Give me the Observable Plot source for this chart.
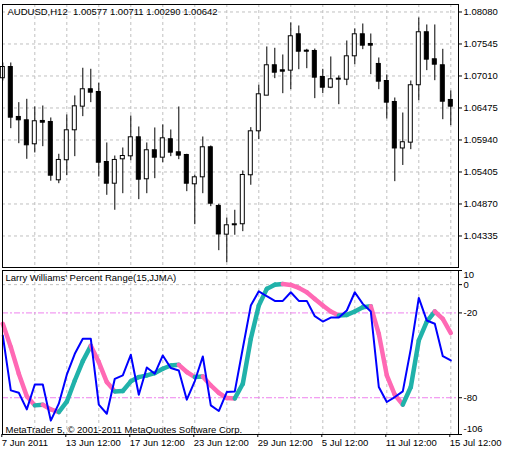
<!DOCTYPE html>
<html>
<head>
<meta charset="utf-8">
<script src="https://cdn.jsdelivr.net/npm/d3@7"></script>
<script src="https://cdn.jsdelivr.net/npm/@observablehq/plot@0.6"></script>
<style>
  html, body { margin: 0; padding: 0; background: #fff; }
  #chart { position: relative; width: 511px; height: 455px; background: #fff; }
  #chart svg { display: block; }
  #chart svg text { white-space: pre; }
</style>
</head>
<body>
<div id="chart"></div>
<script>
// ---- Data ----
const title = "AUDUSD,H12  1.00577 1.00711 1.00290 1.00642";
const indicatorName = "Larry Williams' Percent Range(15,JJMA)";
const copyright = "MetaTrader 5, © 2001-2011 MetaQuotes Software Corp.";

const open = [1.06972,1.07160,1.06325,1.06269,1.05868,1.06258,1.06241,1.05266,1.05601,1.06102,
  1.06497,1.06788,1.06742,1.05572,1.05209,1.05617,1.05667,1.05985,1.05283,1.05768,
  1.05644,1.05952,1.05734,1.05689,1.05199,1.05316,1.05818,1.04837,1.04357,1.04514,
  1.04531,1.05350,1.06085,1.06681,1.07189,1.07105,1.07099,1.07707,1.07433,1.07428,
  1.06993,1.06814,1.06948,1.06948,1.07339,1.07707,1.07545,1.07211,1.06926,1.06575,
  1.05798,1.05895,1.06855,1.07741,1.07289,1.07189,1.06609];
const high = [1.07227,1.07227,1.06564,1.06620,1.06492,1.06508,1.06308,1.05701,1.06358,1.06676,
  1.07139,1.07122,1.06888,1.05890,1.05672,1.05806,1.06341,1.06157,1.05890,1.06141,
  1.06191,1.06107,1.06492,1.05701,1.05350,1.05990,1.05840,1.04865,1.04636,1.04765,
  1.05422,1.06146,1.06855,1.07495,1.07473,1.07361,1.07896,1.07846,1.07456,1.07461,
  1.07122,1.07328,1.07010,1.07595,1.07796,1.07879,1.07712,1.07311,1.07027,1.06642,
  1.06391,1.06926,1.07980,1.07863,1.07863,1.07456,1.06759];
const low = [1.06926,1.06129,1.05878,1.05617,1.05723,1.05828,1.05250,1.05209,1.05343,1.05661,
  1.06330,1.06564,1.05321,1.05015,1.04765,1.05042,1.05594,1.04942,1.05042,1.05293,
  1.05560,1.05661,1.05611,1.05076,1.04524,1.05042,1.04825,1.04089,1.03889,1.04347,
  1.04407,1.05183,1.05945,1.06681,1.06965,1.06714,1.06781,1.07115,1.07132,1.06631,
  1.06714,1.06798,1.06530,1.06848,1.07199,1.07450,1.07032,1.06781,1.06291,1.05243,
  1.05514,1.05778,1.06597,1.07099,1.06931,1.06279,1.06179];
const close = [1.07160,1.06313,1.06269,1.05851,1.06253,1.06229,1.05343,1.05606,1.06102,1.06503,
  1.06788,1.06731,1.05560,1.05209,1.05606,1.05672,1.05985,1.05276,1.05768,1.05644,
  1.05968,1.05728,1.05678,1.05209,1.05316,1.05818,1.04875,1.04360,1.04514,1.04531,
  1.05355,1.06085,1.06704,1.07189,1.07065,1.07082,1.07674,1.07416,1.07416,1.06982,
  1.06814,1.06955,1.06965,1.07339,1.07707,1.07517,1.07517,1.06915,1.06564,1.05798,
  1.05902,1.06855,1.07741,1.07283,1.07199,1.06580,1.06497];

// Williams %R (thin blue) and its JJMA smoothing (thick two-colour)
const wpr = [-36.0,-74.8,-76.5,-88.2,-70.6,-70.6,-96.2,-84.2,-63.7,-48.9,
  -38.3,-38.3,-84.9,-91.3,-66.6,-64.2,-49.6,-77.9,-58.6,-63.0,
  -50.1,-59.0,-60.7,-81.4,-68.2,-50.8,-85.4,-89.4,-76.0,-75.5,
  -45.0,-14.8,-4.7,-8.2,-11.5,-11.5,-5.4,-11.5,-11.5,-22.3,
  -26.1,-23.3,-23.3,-18.3,-5.4,-13.6,-19.0,-72.4,-83.0,-79.5,
  -75.5,-45.4,-9.4,-25.4,-27.7,-50.6,-53.6];
const jjma = [-27.7,-44.2,-63.0,-79.0,-85.4,-85.0,-88.2,-90.1,-82.8,-67.8,
  -54.1,-43.3,-54.8,-68.9,-75.5,-75.2,-68.4,-65.4,-64.2,-62.6,
  -59.5,-57.2,-56.7,-61.8,-65.4,-64.9,-71.3,-76.5,-80.2,-80.5,
  -70.1,-38.3,-14.8,-3.0,0.0,0.5,-0.2,-2.3,-5.4,-10.1,
  -14.8,-19.0,-21.9,-21.4,-19.0,-16.0,-15.3,-34.8,-64.2,-77.9,
  -84.9,-72.4,-39.5,-26.1,-19.0,-24.2,-34.3];

const priceTicks = [1.08080,1.07545,1.07010,1.06475,1.05940,1.05405,1.04870,1.04335];
const wprLevels = [-20,-80];
const wprTicksMid = [0,-20,-80];
const wprTickTop = [10];
const wprTickBottom = [-106];
const timeTickIdx = [0,8,16,24,32,40,48,56];
const timeLabels = ["7 Jun 2011","13 Jun 12:00","17 Jun 12:00","23 Jun 12:00","29 Jun 12:00","5 Jul 12:00","11 Jul 12:00","15 Jul 12:00"];
const gridIdx = [4,8,12,16,20,24,28,32,36,40,44,48,52,56];

// ---- Build tables ----
const candles = open.map((o, i) => ({i, open: o, high: high[i], low: low[i], close: close[i]}));
const wprPts = wpr.map((v, i) => ({i, v}));
const jjSegs = jjma.slice(1).map((v, k) => ({
  x1: k, y1: jjma[k], x2: k + 1, y2: v, up: v > jjma[k]
}));

const FONT = "'Liberation Sans', Arial, sans-serif";
const FS = "9.5px";
const GRID = {stroke: "#c0c0c0", strokeOpacity: 1, strokeDasharray: "3,3"};
const xDomain = [-0.0375, 56.9625];

const upper = Plot.plot({
  width: 511, height: 268,
  marginLeft: 2, marginRight: 53, marginTop: 4, marginBottom: 1,
  x: {domain: xDomain, axis: null},
  y: {domain: [1.03808, 1.08205], axis: null},
  style: {fontFamily: FONT, fontSize: FS, background: "white", color: "black"},
  marks: [
    Plot.gridY(priceTicks, GRID),
    Plot.gridX(gridIdx, GRID),
    Plot.ruleX(candles, {x: "i", y1: "low", y2: "high", stroke: "black", strokeWidth: 1}),
    Plot.rect(candles, {
      x1: d => d.i - 0.25, x2: d => d.i + 0.25,
      y1: "open", y2: "close",
      fill: d => d.close >= d.open ? "white" : "black",
      stroke: "black", strokeWidth: 1
    }),
    Plot.frame({stroke: "black"}),
    Plot.axisY(priceTicks, {anchor: "right", tickSize: 3, tickPadding: 2, tickFormat: d3.format(".5f"), fill: "black", stroke: "black"}),
    Plot.text([title], {text: d => d, frameAnchor: "top-left", textAnchor: "start", lineAnchor: "top", dx: 5, dy: 4, fill: "black"})
  ]
});

const lower = Plot.plot({
  width: 511, height: 187,
  marginLeft: 2, marginRight: 53, marginTop: 2, marginBottom: 21,
  x: {domain: xDomain, axis: null},
  y: {domain: [-106, 10], axis: null},
  style: {fontFamily: FONT, fontSize: FS, background: "white", color: "black"},
  marks: [
    Plot.gridY([0], GRID),
    Plot.gridX(gridIdx, GRID),
    Plot.ruleY(wprLevels, {stroke: "violet", strokeDasharray: "6,2,2,2", strokeWidth: 1}),
    Plot.link(jjSegs, {
      x1: "x1", y1: "y1", x2: "x2", y2: "y2",
      stroke: d => d.up ? "#20B2AA" : "#FF69B4",
      strokeWidth: 4.5, strokeLinecap: "round"
    }),
    Plot.line(wprPts, {x: "i", y: "v", stroke: "#0000FF", strokeWidth: 2}),
    Plot.frame({stroke: "black"}),
    Plot.axisY([10, 0, -20, -80, -106], {anchor: "right", tickSize: 3, fill: "none", stroke: "black"}),
    Plot.axisY(wprTicksMid, {anchor: "right", tickSize: 3, tickPadding: 2, stroke: "none", fill: "black", tickFormat: d => String(d).replace("-", "-")}),
    Plot.axisY(wprTickTop, {anchor: "right", tickSize: 3, tickPadding: 2, stroke: "none", fill: "black", dy: 4, tickFormat: d => String(d)}),
    Plot.axisY(wprTickBottom, {anchor: "right", tickSize: 3, tickPadding: 2, stroke: "none", fill: "black", dy: -6, tickFormat: d => String(d)}),
    Plot.axisX(timeTickIdx, {anchor: "bottom", tickSize: 3, tickPadding: 2, textAnchor: "start", dx: -1,
      tickFormat: d => timeLabels[timeTickIdx.indexOf(d)], fill: "black", stroke: "black"}),
    Plot.text([indicatorName], {text: d => d, frameAnchor: "top-left", textAnchor: "start", lineAnchor: "top", dx: 3, dy: 4, fill: "black"}),
    Plot.text([copyright], {text: d => d, frameAnchor: "bottom-left", textAnchor: "start", lineAnchor: "bottom", dx: 3, dy: -2, fill: "black"})
  ]
});

const chart = document.getElementById("chart");
chart.appendChild(upper);
chart.appendChild(lower);
</script>
</body>
</html>
